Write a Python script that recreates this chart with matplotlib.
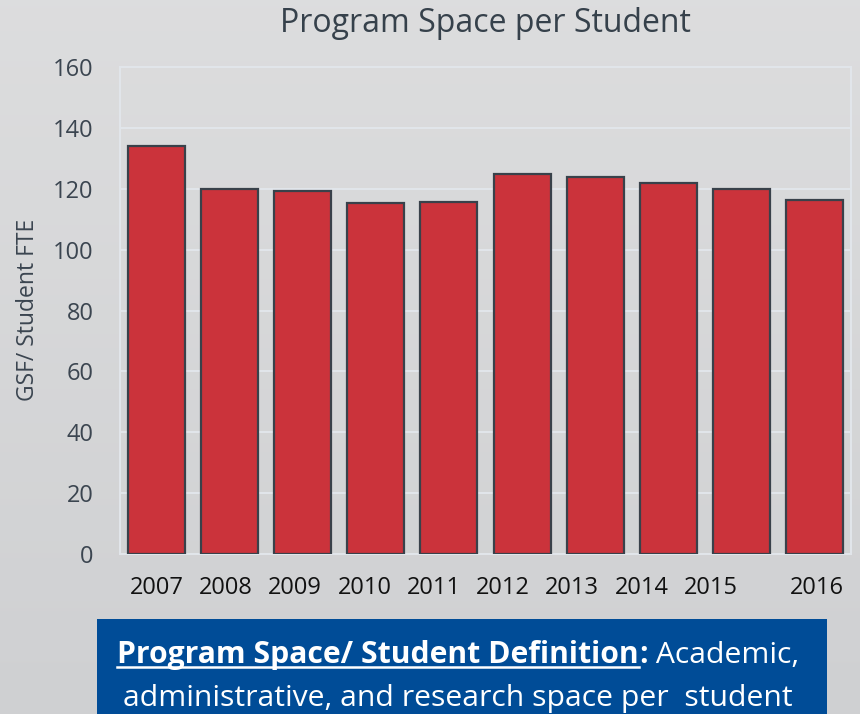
import numpy as np
import matplotlib
matplotlib.use("Agg")
import matplotlib.pyplot as plt
from matplotlib.patches import Rectangle
from matplotlib.lines import Line2D

# Program space per student (GSF per student FTE), by year
years = ['2007', '2008', '2009', '2010', '2011', '2012', '2013', '2014', '2015', '2016']
space_per_student = [134.0, 119.8, 119.4, 115.4, 115.5, 125.0, 124.0, 122.0, 119.8, 116.4]
y_ticks = [0, 20, 40, 60, 80, 100, 120, 140, 160]

title = 'Program Space per Student'
y_label = 'GSF/ Student FTE'
note_bold = 'Program Space/ Student Definition'
note_line1 = ' Academic,'
note_line2 = 'administrative, and research space per  student'

W, H = 860, 714
plt.rcParams['font.family'] = ['Open Sans', 'DejaVu Sans']
fig = plt.figure(figsize=(W / 100, H / 100), dpi=100)

# soft vertical gradient behind everything
bg = fig.add_axes([0, 0, 1, 1], zorder=-10)
t = np.linspace(0, 1, 256)[:, None, None]
top_c = np.array([0.865, 0.867, 0.871])
bot_c = np.array([0.812, 0.816, 0.824])
bg.imshow(top_c + (bot_c - top_c) * t, aspect='auto', extent=[0, 1, 0, 1])
bg.axis('off')

ax = fig.add_axes([120 / W, (H - 554) / H, 731 / W, 487 / H])
ax.patch.set_alpha(0)
x = np.arange(len(years))
ax.bar(x, space_per_student, width=0.78, color='#cb333b',
       edgecolor='#39414a', linewidth=1.6, zorder=3)
ax.set_xlim(-0.5, len(years) - 0.5)
ax.set_ylim(0, 160)
ax.set_yticks(y_ticks)
ax.yaxis.grid(True, color='#e1e5ea', linewidth=1.5, zorder=0)
for s in ax.spines.values():
    s.set_color('#e1e5ea')
    s.set_linewidth(1.5)
ax.tick_params(axis='y', length=0, pad=19, labelsize=17, labelcolor='#3b4550')

# year labels sit on a slightly tighter spacing than the bars
label_pos = list(np.arange(len(years) - 1) * 0.948) + [9.04]
ax.set_xticks(label_pos, years)
ax.tick_params(axis='x', length=0, pad=16, labelsize=17, labelcolor='#111111')

fig.text(485.5 / W, 1 - 23 / H, title, ha='center', va='center',
         fontsize=23, color='#36414b')
fig.text(28 / W, 1 - 310 / H, y_label, ha='center', va='center',
         rotation=90, fontsize=16.5, color='#3b4550')

# definition box
fig.add_artist(Rectangle((97 / W, 0), 730 / W, 95 / H, transform=fig.transFigure,
                         facecolor='#004c97', edgecolor='none'))

renderer = fig.canvas.get_renderer()
fs = 21.7
cx = 458
base1 = H - 663
base2 = H - 706

tb = fig.text(0, base1 / H, note_bold, fontsize=fs, fontweight='bold', color='white', va='baseline')
tc = fig.text(0, base1 / H, ':', fontsize=fs, fontweight='bold', color='white', va='baseline')
tr = fig.text(0, base1 / H, note_line1, fontsize=fs, color='white', va='baseline')
wb = tb.get_window_extent(renderer).width
wc = tc.get_window_extent(renderer).width
wr = tr.get_window_extent(renderer).width
x0 = cx - (wb + wc + wr) / 2
tb.set_x(x0 / W)
tc.set_x((x0 + wb) / W)
tr.set_x((x0 + wb + wc) / W)
fig.add_artist(Line2D([x0 / W, (x0 + wb) / W], [(base1 - 4) / H] * 2,
                      transform=fig.transFigure, color='white', linewidth=1.8))

fig.text(cx / W, base2 / H, note_line2, fontsize=fs, color='white',
         ha='center', va='baseline')

fig.savefig('out.png', dpi=100)
